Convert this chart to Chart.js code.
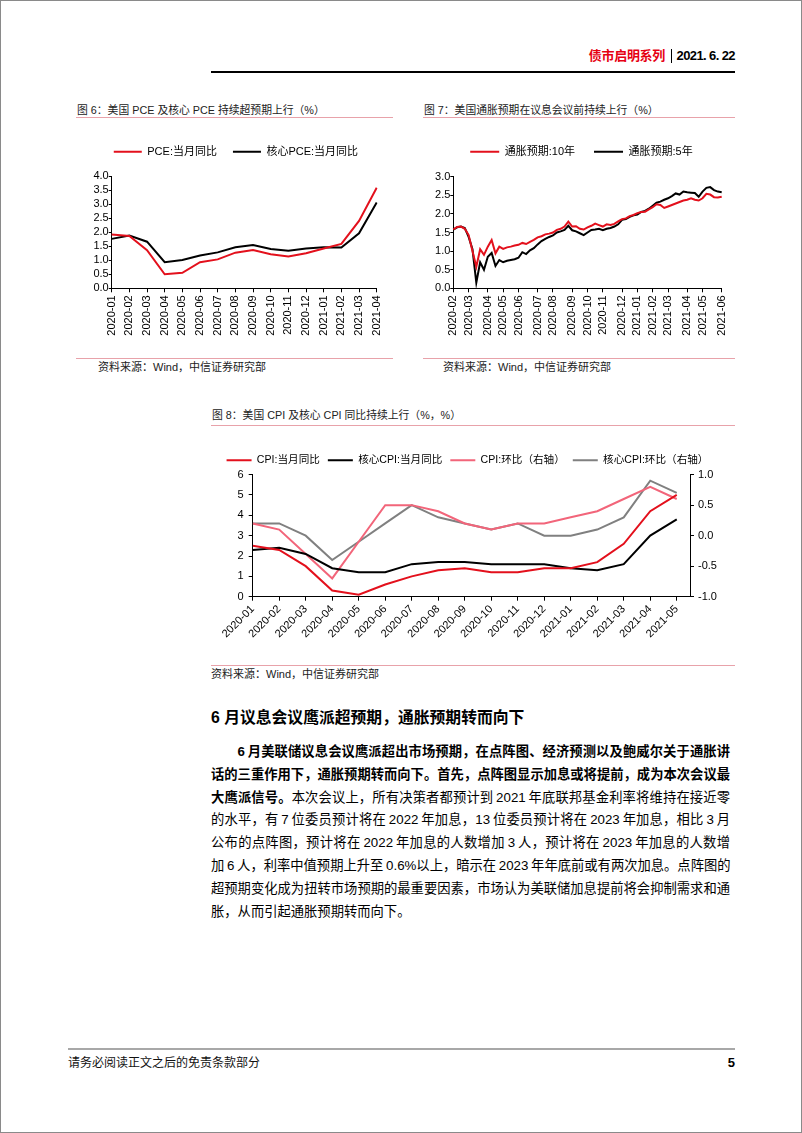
<!DOCTYPE html>
<html lang="zh">
<head>
<meta charset="UTF-8">
<title>债市启明系列 2021.6.22</title>
<script src="https://cdn.jsdelivr.net/npm/chart.js"></script>
<style>
  html, body { margin: 0; padding: 0; background: #fff; }
  body {
    width: 802px; height: 1133px; position: relative; overflow: hidden;
    font-family: "Liberation Sans", "Noto Sans CJK SC", sans-serif; color: #000;
  }
  #frame { position: absolute; left: 0; top: 0; width: 800px; height: 1131px; border: 1px solid #8a8a8a; }
  .abs { position: absolute; white-space: nowrap; }
  .rule { position: absolute; }
  .pink { background: #e8a2aa; height: 1px; }
  .figtitle { font-size: 10.8px; color: #222; line-height: 14px; }
  .source { font-size: 11px; color: #222; line-height: 14px; }
  .chartbox { position: absolute; }
  .head { top: 48px; font-size: 13px; font-weight: bold; line-height: 16px; }
  #h2 { left: 211px; top: 708px; font-size: 15.8px; font-weight: bold; line-height: 20px; }
  #para { position: absolute; left: 211px; top: 741px; width: 519px; font-size: 13.3px; line-height: 22.8px; }
  #para div { white-space: nowrap; text-align: justify; text-align-last: justify; word-spacing: -1px; }
  #para div.first { text-indent: 2em; }
  #para div.last { text-align-last: left; }
  #foot { left: 68px; top: 1055px; font-size: 12px; line-height: 16px; color: #111; }
  #page { right: 67px; top: 1055px; font-size: 13px; font-weight: bold; line-height: 16px; }
</style>
</head>
<body>
<div id="frame"></div>

<div class="abs head" style="right:137px; color:#e60012; letter-spacing:-0.3px;">债市启明系列</div>
<div class="rule" style="left:671px; top:49px; width:1px; height:14px; background:#000;"></div>
<div class="abs head" style="right:67px; letter-spacing:-0.6px;">2021. 6. 22</div>
<div class="rule" style="left:211px; top:71px; width:524px; height:2px; background:#000;"></div>

<!-- 图 6 / 图 7 -->
<div class="abs figtitle" style="left:77px; top:103px;">图 6：美国 PCE 及核心 PCE 持续超预期上行（%）</div>
<div class="rule pink" style="left:76px; top:117px; width:317px;"></div>
<div class="abs figtitle" style="left:424px; top:103px;">图 7：美国通胀预期在议息会议前持续上行（%）</div>
<div class="rule pink" style="left:423px; top:117px; width:312px;"></div>

<div class="chartbox" style="left:76px; top:126px; width:320px; height:220px;">
  <canvas id="pceChart" width="320" height="220"></canvas>
</div>
<div class="chartbox" style="left:423px; top:126px; width:317px; height:220px;">
  <canvas id="beChart" width="317" height="220"></canvas>
</div>

<div class="rule pink" style="left:76px; top:358px; width:317px;"></div>
<div class="abs source" style="left:98px; top:360px;">资料来源：Wind，中信证券研究部</div>
<div class="rule pink" style="left:423px; top:358px; width:312px;"></div>
<div class="abs source" style="left:443px; top:360px;">资料来源：Wind，中信证券研究部</div>

<!-- 图 8 -->
<div class="abs figtitle" style="left:212px; top:408px;">图 8：美国 CPI 及核心 CPI 同比持续上行（%，%）</div>
<div class="rule pink" style="left:211px; top:425px; width:524px;"></div>
<div class="chartbox" style="left:200px; top:440px; width:535px; height:215px;">
  <canvas id="cpiChart" width="535" height="215"></canvas>
</div>
<div class="rule pink" style="left:211px; top:665px; width:524px;"></div>
<div class="abs source" style="left:211px; top:667px;">资料来源：Wind，中信证券研究部</div>

<!-- 正文 -->
<div class="abs" id="h2">6 月议息会议鹰派超预期，通胀预期转而向下</div>
<div id="para">
  <div class="first"><b>6 月美联储议息会议鹰派超出市场预期，在点阵图、经济预测以及鲍威尔关于通胀讲</b></div>
  <div><b>话的三重作用下，通胀预期转而向下。首先，点阵图显示加息或将提前，成为本次会议最</b></div>
  <div><b>大鹰派信号。</b>本次会议上，所有决策者都预计到 2021 年底联邦基金利率将维持在接近零</div>
  <div>的水平，有 7 位委员预计将在 2022 年加息，13 位委员预计将在 2023 年加息，相比 3 月</div>
  <div>公布的点阵图，预计将在 2022 年加息的人数增加 3 人，预计将在 2023 年加息的人数增</div>
  <div>加 6 人，利率中值预期上升至 0.6%以上，暗示在 2023 年年底前或有两次加息。点阵图的</div>
  <div>超预期变化成为扭转市场预期的最重要因素，市场认为美联储加息提前将会抑制需求和通</div>
  <div class="last">胀，从而引起通胀预期转而向下。</div>
</div>

<div class="rule" style="left:68px; top:1048px; width:667px; height:2px; background:#a8a8a8;"></div>
<div class="abs" id="foot">请务必阅读正文之后的免责条款部分</div>
<div class="abs" id="page">5</div>

<script>
  // ---- 图 6 data ----
  const pceMonths = ["2020-01","2020-02","2020-03","2020-04","2020-05","2020-06","2020-07","2020-08",
                     "2020-09","2020-10","2020-11","2020-12","2021-01","2021-02","2021-03","2021-04"];
  const pceYoY     = [1.92, 1.86, 1.36, 0.50, 0.55, 0.93, 1.03, 1.27, 1.36, 1.21, 1.13, 1.25, 1.42, 1.58, 2.40, 3.58];
  const corePceYoY = [1.76, 1.88, 1.66, 0.93, 1.01, 1.17, 1.28, 1.46, 1.54, 1.40, 1.34, 1.42, 1.46, 1.45, 1.96, 3.06];
  const pceTicks = { min: 0, max: 4, step: 0.5 };

  // ---- 图 7 data (weekly, from 2020-02-03) ----
  const be10y = [1.58, 1.65, 1.66, 1.60,
                 1.43, 1.00, 0.58, 1.05, 0.90,
                 1.12, 1.30, 0.94, 1.12,
                 1.06, 1.10, 1.12, 1.15,
                 1.17, 1.22, 1.19, 1.25, 1.30,
                 1.37, 1.40, 1.45, 1.47,
                 1.50, 1.57, 1.60, 1.66, 1.79,
                 1.66, 1.67, 1.60, 1.58,
                 1.64, 1.68, 1.74, 1.70,
                 1.66, 1.72, 1.70, 1.73, 1.80,
                 1.86, 1.88, 1.94, 1.97,
                 2.02, 2.05, 2.06, 2.12,
                 2.18, 2.26, 2.24, 2.16,
                 2.20, 2.24, 2.28, 2.32, 2.36,
                 2.38, 2.42, 2.38, 2.36,
                 2.42, 2.54, 2.52, 2.45, 2.44,
                 2.46];
  const be5y  = [1.58, 1.64, 1.66, 1.62,
                 1.38, 1.05, 0.15, 0.70, 0.50,
                 0.85, 0.95, 0.60, 0.76,
                 0.70, 0.74, 0.76, 0.78,
                 0.82, 0.97, 0.92, 1.02, 1.08,
                 1.18, 1.27, 1.33, 1.38,
                 1.42, 1.50, 1.53, 1.57, 1.68,
                 1.56, 1.53, 1.48, 1.43,
                 1.50, 1.57, 1.58, 1.60,
                 1.56, 1.60, 1.62, 1.66, 1.72,
                 1.84, 1.86, 1.92, 1.96,
                 1.98, 2.05, 2.08, 2.14,
                 2.22, 2.30, 2.33, 2.38,
                 2.42, 2.48, 2.55, 2.52, 2.60,
                 2.58, 2.57, 2.56, 2.46,
                 2.60, 2.70, 2.72, 2.64, 2.60,
                 2.58];
  const beTicks = { min: 0, max: 3, step: 0.5 };

  // ---- 图 8 data ----
  const cpiMonths = ["2020-01","2020-02","2020-03","2020-04","2020-05","2020-06","2020-07","2020-08","2020-09",
                     "2020-10","2020-11","2020-12","2021-01","2021-02","2021-03","2021-04","2021-05"];
  const cpiYoY  = [2.5, 2.3, 1.5, 0.3, 0.1, 0.6, 1.0, 1.3, 1.4, 1.2, 1.2, 1.4, 1.4, 1.7, 2.6, 4.2, 5.0];
  const coreYoY = [2.3, 2.4, 2.1, 1.4, 1.2, 1.2, 1.6, 1.7, 1.7, 1.6, 1.6, 1.6, 1.4, 1.3, 1.6, 3.0, 3.8];
  const cpiMoM  = [0.2, 0.1, -0.3, -0.7, -0.1, 0.5, 0.5, 0.4, 0.2, 0.1, 0.2, 0.2, 0.3, 0.4, 0.6, 0.8, 0.6];
  const coreMoM = [0.2, 0.2, 0.0, -0.4, -0.1, 0.2, 0.5, 0.3, 0.2, 0.1, 0.2, 0.0, 0.0, 0.1, 0.3, 0.9, 0.7];
  const cpiLeftTicks  = { min: 0, max: 6, step: 1 };
  const cpiRightTicks = { min: -1, max: 1, step: 0.5 };

  // week labels for chart 7
  const weekLabels = be10y.map((_, i) => new Date(Date.UTC(2020, 1, 3 + 7 * i)).toISOString().slice(0, 10));

  Chart.defaults.font.family = "'Liberation Sans', 'Noto Sans CJK SC', sans-serif";
  Chart.defaults.font.size = 11;
  Chart.defaults.color = '#000';
  Chart.defaults.animation = false;

  // extra room under the legend, and a small sideways nudge
  Chart.register({
    id: 'legendGap',
    beforeInit(chart, args, opts) {
      const fit = chart.legend.fit;
      chart.legend.fit = function () {
        fit.call(this);
        this.height += opts.extra || 0;
      };
    },
    afterLayout(chart, args, opts) {
      const dx = opts.dx || 0;
      chart.legend.left += dx;
      chart.legend.right += dx;
    }
  });

  const RED = '#e3101c';
  const axisGrid = { display: true, drawOnChartArea: false, drawTicks: true, color: '#000', tickColor: '#000' };

  function legendOpts(lineW, gap, size) {
    return {
      display: true,
      position: 'top',
      labels: { usePointStyle: true, pointStyle: 'line', pointStyleWidth: lineW, boxHeight: 11, padding: gap, font: { size: size }, color: '#000' }
    };
  }

  new Chart(document.getElementById('pceChart'), {
    type: 'line',
    data: {
      labels: pceMonths,
      datasets: [
        { label: 'PCE:当月同比', data: pceYoY, borderColor: RED, backgroundColor: RED, borderWidth: 2, pointRadius: 0 },
        { label: '核心PCE:当月同比', data: corePceYoY, borderColor: '#000', backgroundColor: '#000', borderWidth: 2, pointRadius: 0 }
      ]
    },
    options: {
      responsive: false,
      layout: { padding: { top: 4.2, right: 19.3, bottom: 9.7, left: 0 } },
      plugins: { legend: legendOpts(28, 16, 11), legendGap: { extra: 8.8, dx: 9.6 }, tooltip: { enabled: false } },
      scales: {
        x: {
          grid: { ...axisGrid, tickLength: 4 }, border: { color: '#000' },
          ticks: { autoSkip: false, maxRotation: 90, minRotation: 90, padding: 3 },
          afterFit: s => { s.height = 48; }
        },
        y: {
          min: pceTicks.min, max: pceTicks.max,
          grid: { ...axisGrid, tickLength: 3 }, border: { color: '#000' },
          ticks: { autoSkip: false, stepSize: pceTicks.step, padding: 0, callback: v => v.toFixed(1) },
          afterFit: s => { s.width = 35.7; }
        }
      }
    }
  });

  new Chart(document.getElementById('beChart'), {
    type: 'line',
    data: {
      labels: weekLabels,
      datasets: [
        { label: '通胀预期:10年', data: be10y, borderColor: RED, backgroundColor: RED, borderWidth: 2, pointRadius: 0 },
        { label: '通胀预期:5年', data: be5y, borderColor: '#000', backgroundColor: '#000', borderWidth: 2, pointRadius: 0 }
      ]
    },
    options: {
      responsive: false,
      layout: { padding: { top: 1.2, right: 18.3, bottom: 9.7, left: 0 } },
      plugins: { legend: legendOpts(29, 19, 11), legendGap: { extra: 9.5, dx: 9.1 }, tooltip: { enabled: false } },
      scales: {
        x: {
          grid: { ...axisGrid, tickLength: 4 }, border: { color: '#000' },
          ticks: {
            autoSkip: false, maxRotation: 90, minRotation: 90, padding: 3,
            callback: (v, i) => {
              const m = weekLabels[i].slice(0, 7);
              return (i === 0 || m !== weekLabels[i - 1].slice(0, 7)) ? m : null;
            }
          },
          afterFit: s => { s.height = 48; }
        },
        y: {
          min: beTicks.min, max: beTicks.max,
          grid: { ...axisGrid, tickLength: 3 }, border: { color: '#000' },
          ticks: { autoSkip: false, stepSize: beTicks.step, padding: 0, callback: v => v.toFixed(1) },
          afterFit: s => { s.width = 30.3; }
        }
      }
    }
  });

  const xy = arr => arr.map((v, i) => ({ x: i, y: v }));

  new Chart(document.getElementById('cpiChart'), {
    type: 'line',
    data: {
      datasets: [
        { label: 'CPI:当月同比', data: xy(cpiYoY), yAxisID: 'y', borderColor: RED, backgroundColor: RED, borderWidth: 2, pointRadius: 0 },
        { label: '核心CPI:当月同比', data: xy(coreYoY), yAxisID: 'y', borderColor: '#000', backgroundColor: '#000', borderWidth: 2, pointRadius: 0 },
        { label: 'CPI:环比（右轴）', data: xy(cpiMoM), yAxisID: 'y1', borderColor: '#f2657a', backgroundColor: '#f2657a', borderWidth: 2, pointRadius: 0 },
        { label: '核心CPI:环比（右轴）', data: xy(coreMoM), yAxisID: 'y1', borderColor: '#808080', backgroundColor: '#808080', borderWidth: 2, pointRadius: 0 }
      ]
    },
    options: {
      responsive: false,
      layout: { padding: { top: 7, right: 15, bottom: 13.3, left: 0 } },
      plugins: { legend: legendOpts(25, 8, 10.6), legendGap: { extra: -1, dx: 7.5 }, tooltip: { enabled: false } },
      scales: {
        x: {
          type: 'linear', min: 0, max: cpiMonths.length - 0.5,
          grid: { ...axisGrid, tickLength: 4 }, border: { color: '#000' },
          ticks: {
            stepSize: 1, includeBounds: false, autoSkip: false, maxRotation: 45, minRotation: 45, padding: 2,
            callback: v => (Number.isInteger(v) ? cpiMonths[v] : null)
          },
          afterFit: s => { s.height = 45; }
        },
        y: {
          position: 'left', min: cpiLeftTicks.min, max: cpiLeftTicks.max,
          grid: { ...axisGrid, tickLength: 4 }, border: { color: '#000' },
          ticks: { autoSkip: false, stepSize: cpiLeftTicks.step, padding: 5 },
          afterFit: s => { s.width = 52.7; }
        },
        y1: {
          position: 'right', min: cpiRightTicks.min, max: cpiRightTicks.max,
          grid: { ...axisGrid, tickLength: 4 }, border: { color: '#000' },
          ticks: { autoSkip: false, stepSize: cpiRightTicks.step, padding: 4, callback: v => v.toFixed(1) },
          afterFit: s => { s.width = 30; }
        }
      }
    }
  });
</script>
</body>
</html>
